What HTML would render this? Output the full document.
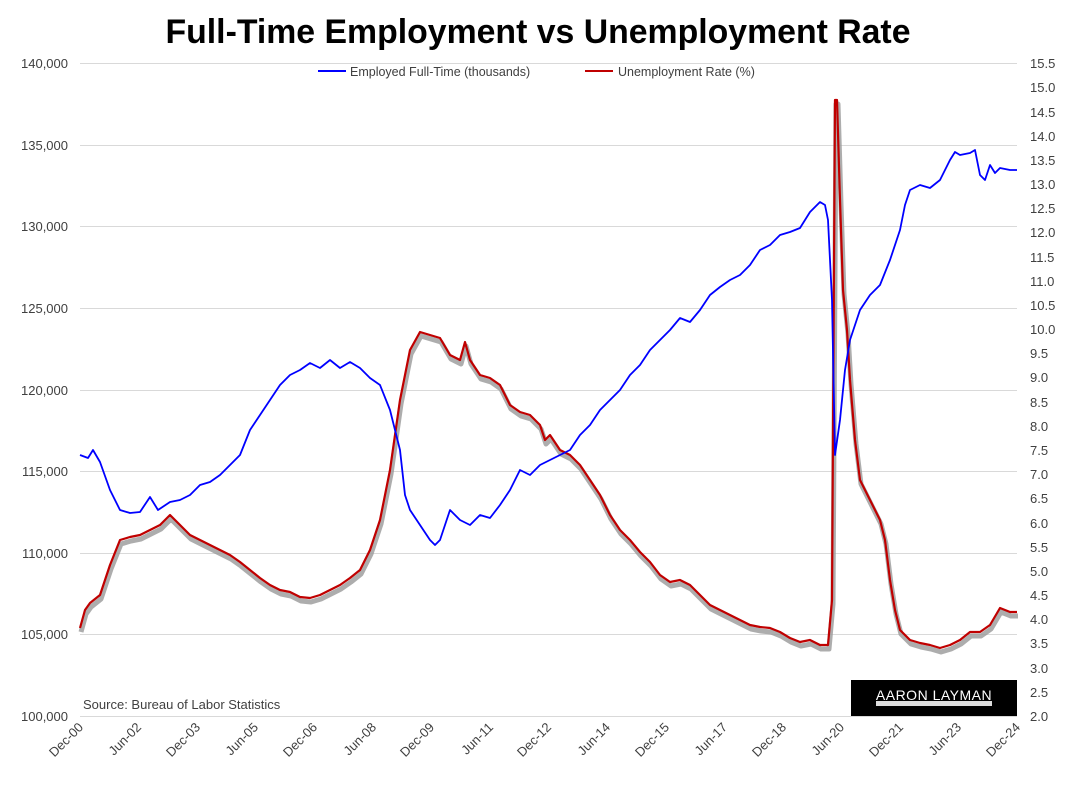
<!DOCTYPE html>
<html><head><style>
body{margin:0;background:#fff;font-family:"Liberation Sans",sans-serif}
</style></head><body>
<svg width="1080" height="784" xmlns="http://www.w3.org/2000/svg" font-family="Liberation Sans, sans-serif">
<text x="538" y="43" text-anchor="middle" font-size="34" font-weight="bold" fill="#000" textLength="745" lengthAdjust="spacingAndGlyphs">Full-Time Employment vs Unemployment Rate</text>
<g stroke="#d9d9d9" stroke-width="1">
<line x1="80" x2="1017" y1="63.5" y2="63.5"/><line x1="80" x2="1017" y1="145.5" y2="145.5"/>
<line x1="80" x2="1017" y1="226.5" y2="226.5"/><line x1="80" x2="1017" y1="308.5" y2="308.5"/>
<line x1="80" x2="1017" y1="390.5" y2="390.5"/><line x1="80" x2="1017" y1="471.5" y2="471.5"/>
<line x1="80" x2="1017" y1="553.5" y2="553.5"/><line x1="80" x2="1017" y1="634.5" y2="634.5"/>
<line x1="80" x2="1017" y1="716.5" y2="716.5"/>
</g>
<g font-size="13" fill="#404040" text-anchor="end">
<text x="68" y="68">140,000</text><text x="68" y="150">135,000</text><text x="68" y="231">130,000</text>
<text x="68" y="313">125,000</text><text x="68" y="395">120,000</text><text x="68" y="476">115,000</text>
<text x="68" y="558">110,000</text><text x="68" y="639">105,000</text><text x="68" y="721">100,000</text>
</g>
<g font-size="13" fill="#404040" text-anchor="start">
<text x="1030" y="68">15.5</text><text x="1030" y="92">15.0</text><text x="1030" y="117">14.5</text><text x="1030" y="141">14.0</text>
<text x="1030" y="165">13.5</text><text x="1030" y="189">13.0</text><text x="1030" y="213">12.5</text><text x="1030" y="237">12.0</text>
<text x="1030" y="262">11.5</text><text x="1030" y="286">11.0</text><text x="1030" y="310">10.5</text><text x="1030" y="334">10.0</text>
<text x="1030" y="358">9.5</text><text x="1030" y="382">9.0</text><text x="1030" y="407">8.5</text><text x="1030" y="431">8.0</text>
<text x="1030" y="455">7.5</text><text x="1030" y="479">7.0</text><text x="1030" y="503">6.5</text><text x="1030" y="528">6.0</text>
<text x="1030" y="552">5.5</text><text x="1030" y="576">5.0</text><text x="1030" y="600">4.5</text><text x="1030" y="624">4.0</text>
<text x="1030" y="648">3.5</text><text x="1030" y="673">3.0</text><text x="1030" y="697">2.5</text><text x="1030" y="721">2.0</text>
</g>
<g font-size="13" fill="#404040" text-anchor="end">
<text transform="translate(84,728) rotate(-45)">Dec-00</text>
<text transform="translate(142,728) rotate(-45)">Jun-02</text>
<text transform="translate(201,728) rotate(-45)">Dec-03</text>
<text transform="translate(259,728) rotate(-45)">Jun-05</text>
<text transform="translate(318,728) rotate(-45)">Dec-06</text>
<text transform="translate(377,728) rotate(-45)">Jun-08</text>
<text transform="translate(435,728) rotate(-45)">Dec-09</text>
<text transform="translate(494,728) rotate(-45)">Jun-11</text>
<text transform="translate(552,728) rotate(-45)">Dec-12</text>
<text transform="translate(611,728) rotate(-45)">Jun-14</text>
<text transform="translate(670,728) rotate(-45)">Dec-15</text>
<text transform="translate(728,728) rotate(-45)">Jun-17</text>
<text transform="translate(787,728) rotate(-45)">Dec-18</text>
<text transform="translate(845,728) rotate(-45)">Jun-20</text>
<text transform="translate(904,728) rotate(-45)">Dec-21</text>
<text transform="translate(962,728) rotate(-45)">Jun-23</text>
<text transform="translate(1021,728) rotate(-45)">Dec-24</text>
</g>
<line x1="318" x2="346" y1="71" y2="71" stroke="#0000ff" stroke-width="2"/>
<text x="350" y="76" font-size="12.5" fill="#404040">Employed Full-Time (thousands)</text>
<line x1="585" x2="613" y1="71" y2="71" stroke="#c00000" stroke-width="2"/>
<text x="618" y="76" font-size="12.5" fill="#404040">Unemployment Rate (%)</text>
<text x="83" y="709" font-size="13" fill="#404040">Source: Bureau of Labor Statistics</text>
<rect x="851" y="680" width="166" height="36" fill="#000"/>
<text x="934" y="700" font-size="14" fill="#fff" text-anchor="middle" letter-spacing="0.5">AARON LAYMAN</text>
<rect x="876" y="701" width="116" height="5" fill="#ddd"/>
<polyline fill="none" stroke="#999" stroke-width="5" stroke-linejoin="round" opacity="0.8" transform="translate(1,4)" points="80,628 85,610 90,603 100,595 110,565 120,540 130,537 140,535 150,530 160,525 170,515 180,525 190,535 200,540 210,545 220,550 230,555 240,562 250,570 260,578 270,585 280,590 290,592 300,597 310,598 320,595 330,590 340,585 350,578 360,570 370,550 380,520 390,470 400,400 410,350 420,332 430,335 440,338 450,355 460,360 465,342 470,360 480,375 490,378 500,385 510,405 520,412 530,415 540,425 545,440 550,435 560,450 570,455 580,465 590,480 600,495 610,515 620,530 630,540 640,552 650,562 660,575 670,582 680,580 690,585 700,595 710,605 720,610 730,615 740,620 750,625 760,627 770,628 780,632 790,638 800,642 810,640 820,645 828,645 832,600 835,100 837,100 840,200 843,290 847,330 850,380 855,440 860,480 870,500 880,520 885,540 890,580 895,610 900,630 910,640 920,643 930,645 940,648 950,645 960,640 970,632 980,632 990,625 1000,608 1005,610 1010,612 1017,612"/>
<polyline fill="none" stroke="#c00000" stroke-width="2.2" stroke-linejoin="round" points="80,628 85,610 90,603 100,595 110,565 120,540 130,537 140,535 150,530 160,525 170,515 180,525 190,535 200,540 210,545 220,550 230,555 240,562 250,570 260,578 270,585 280,590 290,592 300,597 310,598 320,595 330,590 340,585 350,578 360,570 370,550 380,520 390,470 400,400 410,350 420,332 430,335 440,338 450,355 460,360 465,342 470,360 480,375 490,378 500,385 510,405 520,412 530,415 540,425 545,440 550,435 560,450 570,455 580,465 590,480 600,495 610,515 620,530 630,540 640,552 650,562 660,575 670,582 680,580 690,585 700,595 710,605 720,610 730,615 740,620 750,625 760,627 770,628 780,632 790,638 800,642 810,640 820,645 828,645 832,600 835,100 837,100 840,200 843,290 847,330 850,380 855,440 860,480 870,500 880,520 885,540 890,580 895,610 900,630 910,640 920,643 930,645 940,648 950,645 960,640 970,632 980,632 990,625 1000,608 1005,610 1010,612 1017,612"/>
<polyline fill="none" stroke="#0000ff" stroke-width="1.8" stroke-linejoin="round" points="80,455 88,458 93,450 100,462 110,490 120,510 130,513 140,512 150,497 158,510 170,502 180,500 190,495 200,485 210,482 220,475 230,465 240,455 250,430 260,415 270,400 280,385 290,375 300,370 310,363 320,368 330,360 340,368 350,362 360,368 370,378 380,385 390,410 400,450 405,495 410,510 420,525 430,540 435,545 440,540 450,510 460,520 470,525 480,515 490,518 500,505 510,490 520,470 530,475 540,465 550,460 560,455 570,450 580,435 590,425 600,410 610,400 620,390 630,375 640,365 650,350 660,340 670,330 680,318 690,322 700,310 710,295 720,287 730,280 740,275 750,265 760,250 770,245 780,235 790,232 800,228 810,212 820,202 825,205 828,220 832,300 835,455 840,420 845,370 850,340 860,310 870,295 880,285 890,260 900,230 905,205 910,190 920,185 930,188 940,180 950,160 955,152 960,155 970,153 975,150 980,175 985,180 990,165 995,173 1000,168 1010,170 1017,170"/>
</svg>
</body></html>
